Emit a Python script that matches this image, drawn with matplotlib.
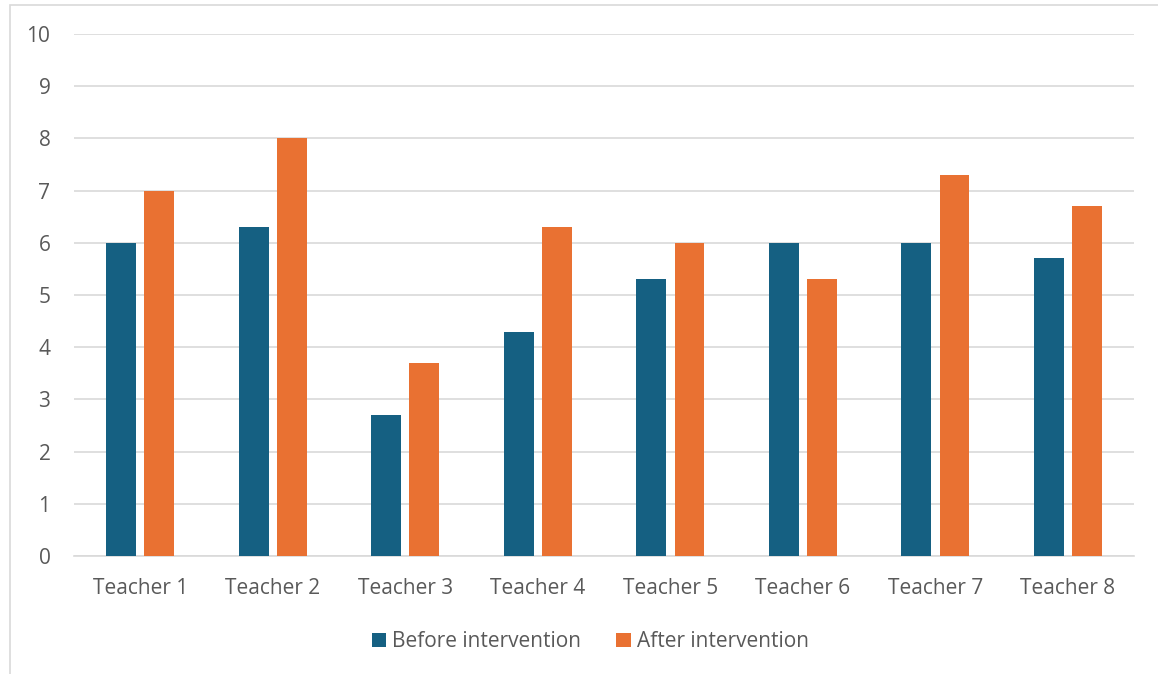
import matplotlib
matplotlib.use('Agg')
import matplotlib.pyplot as plt
import numpy as np
from matplotlib.patches import Rectangle

teachers = ['Teacher 1', 'Teacher 2', 'Teacher 3', 'Teacher 4',
            'Teacher 5', 'Teacher 6', 'Teacher 7', 'Teacher 8']
before = [6.0, 6.3, 2.7, 4.3, 5.3, 6.0, 6.0, 5.7]
after = [7.0, 8.0, 3.7, 6.3, 6.0, 5.3, 7.3, 6.7]
labels = ['Before intervention', 'After intervention']

blue = '#156082'
orange = '#E97132'
text_col = '#595959'
grid_col = '#d9d9d9'

plt.rcParams['font.family'] = ['Open Sans', 'DejaVu Sans']

fig = plt.figure(figsize=(11.58, 6.74), dpi=100)
ax = fig.add_axes([0.0639, 0.175, 0.9154, 0.7746])

# outer chart frame
fig.patches.append(Rectangle((10 / 1158, -0.05), 1.1, 1.05 - 5 / 674,
                             transform=fig.transFigure, fill=False,
                             edgecolor=grid_col, linewidth=1.2))

x = np.arange(len(teachers))
w = 0.226
off = 0.145
ax.bar(x - off, before, w, color=blue, label=labels[0], zorder=3)
ax.bar(x + off, after, w, color=orange, label=labels[1], zorder=3)

ax.set_xlim(-0.5, len(teachers) - 0.5)
ax.set_ylim(0, 10)
ax.set_yticks(range(0, 11))
ax.set_xticks(x)
ax.set_xticklabels(teachers)
ax.yaxis.grid(True, color=grid_col, linewidth=1.2, zorder=0)
ax.set_axisbelow(True)
for s in ['top', 'right', 'left']:
    ax.spines[s].set_visible(False)
ax.spines['bottom'].set_color(grid_col)
ax.spines['bottom'].set_linewidth(1.2)
ax.tick_params(axis='both', length=0, labelsize=15, colors=text_col)
ax.tick_params(axis='y', pad=17)
ax.tick_params(axis='x', pad=16)

leg = ax.legend(loc='upper center', bbox_to_anchor=(0.487, -0.108), ncol=2,
                frameon=False, fontsize=15, handlelength=0.68, handleheight=0.68,
                handletextpad=0.3, columnspacing=1.7)
for t in leg.get_texts():
    t.set_color(text_col)

fig.savefig('out.png', dpi=100)
